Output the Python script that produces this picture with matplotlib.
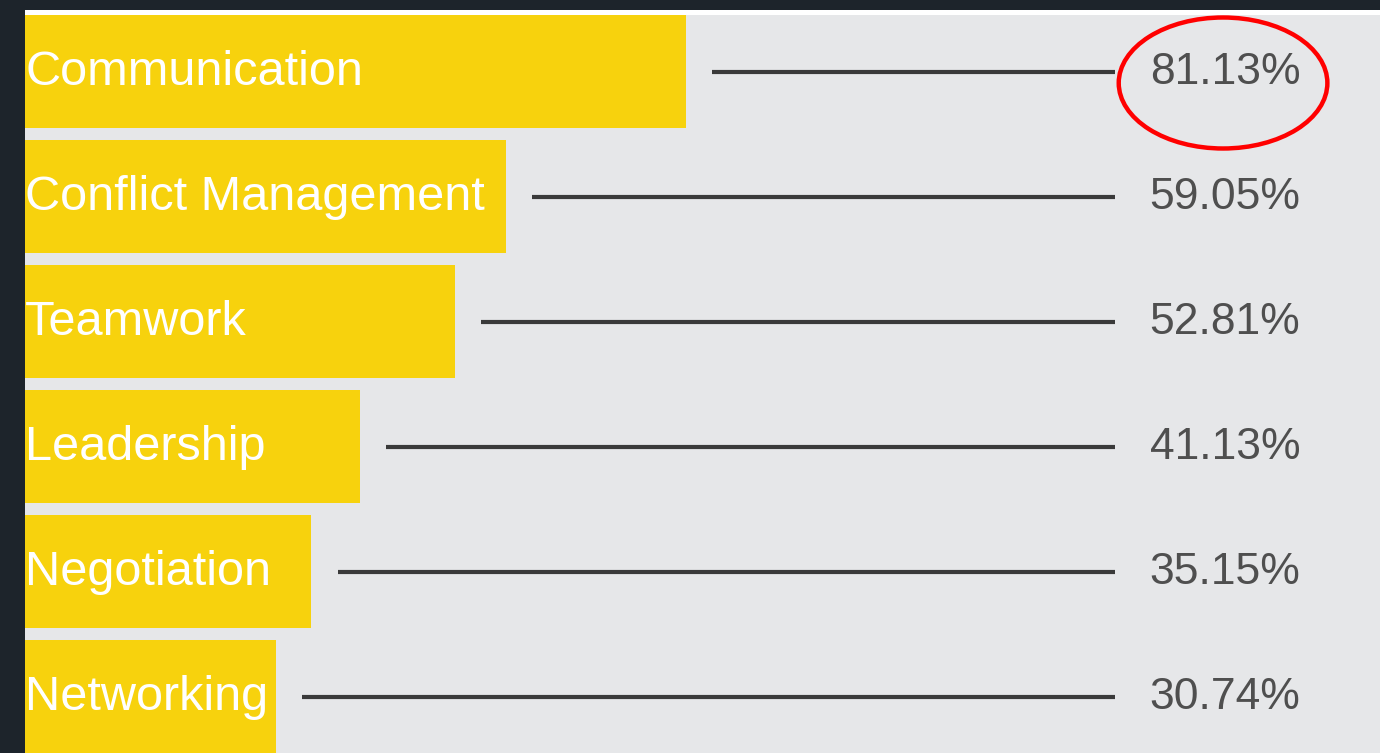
import matplotlib
matplotlib.use("Agg")
import matplotlib.pyplot as plt
from matplotlib.patches import Ellipse

# --- данные ---
skills = ['Communication', 'Conflict Management', 'Teamwork',
          'Leadership', 'Negotiation', 'Networking']
values = [81.13, 59.05, 52.81, 41.13, 35.15, 30.74]
labels = ['81.13%', '59.05%', '52.81%', '41.13%', '35.15%', '30.74%']

# --- оформление ---
BG = '#1d242b'
PANEL = '#e6e7e9'
YELLOW = '#f7d20d'
LINE = '#3a3a3a'
TXT = '#4f4f4f'

W, H = 1380, 753
fig = plt.figure(figsize=(W / 100, H / 100), dpi=100, facecolor=BG)
ax = fig.add_axes([25 / W, 0, (W - 25) / W, (H - 10) / H])
ax.set_facecolor(PANEL)

px_per_unit = 8.15
ax.set_xlim(0, (W - 25) / px_per_unit)
ax.set_ylim((753 - 71.5) / 125, (10 - 71.5) / 125)

# белая полоска сверху
ax.axhspan((10 - 71.5) / 125, (15 - 71.5) / 125, color='white', lw=0)

ys = list(range(len(skills)))
ax.barh(ys, values, height=0.905, color=YELLOW, align='center', zorder=2)

line_end = 133.8
for y, v, name, lab in zip(ys, values, skills, labels):
    ax.text(0, y + 0.01, name, color='white', fontsize=35,
            family='Liberation Sans', ha='left', va='center', zorder=3)
    ax.plot([v + 3.2, line_end], [y, y], color=LINE, lw=3, solid_capstyle='butt', zorder=3)
    ax.text(138.0, y + 0.01, lab, color=TXT, fontsize=32,
            family='Liberation Sans', ha='left', va='center', zorder=3)

# красный овал вокруг первого значения
ax.add_patch(Ellipse((147.0, 0.092), 25.6, 1.048, fill=False,
                     edgecolor='#ff0000', lw=3.2, zorder=4))

ax.set_xticks([])
ax.set_yticks([])
for s in ax.spines.values():
    s.set_visible(False)
fig.savefig('out.png', dpi=100, facecolor=BG)
